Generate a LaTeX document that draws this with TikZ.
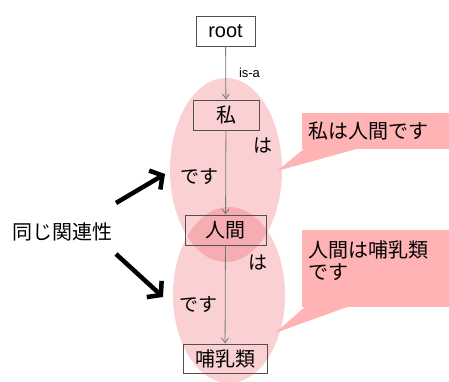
\documentclass[tikz,border=0pt]{standalone}
\usepackage{fontspec}
\setmainfont{Liberation Sans}
\newfontfamily\jp{Noto Sans CJK JP}
\usetikzlibrary{arrows.meta}
\definecolor{ellpink}{RGB}{235,80,90}
\definecolor{callpink}{RGB}{255,179,181}
\definecolor{boxgray}{RGB}{80,80,80}
\definecolor{lingray}{RGB}{120,120,120}
\tikzset{
  ell/.style={fill=ellpink, fill opacity=0.27, draw=none},
  wbox/.style={draw=boxgray, line width=0.9pt, inner sep=0pt, font=\jp\fontsize{20}{24}\selectfont},
  lbl/.style={inner sep=0pt, font=\jp\fontsize{19}{22}\selectfont},
  thinarrow/.style={draw=lingray, line width=0.8pt, -{Straight Barb[length=5pt,width=7pt,line width=0.8pt]}},
  bigarrow/.style={draw=black, line width=4.5pt, -{Straight Barb[length=9pt,width=22pt,line width=4.5pt]}},
  callout/.style={fill=callpink, draw=none},
  calltext/.style={inner sep=0pt, font=\jp\fontsize{20}{22}\selectfont, align=left}
}
\begin{document}
\begin{tikzpicture}[x=1pt,y=-1pt]
\useasboundingbox (0,0) rectangle (449,382);
% ellipses
\fill[ell] (226,170) ellipse [x radius=56, y radius=92];
\fill[ell] (229,295) ellipse [x radius=56, y radius=88];
% callouts
\fill[callout] (302,113) rectangle (449,149);
\fill[callout] (277,171) -- (305,148) -- (360,148) -- cycle;
\fill[callout] (302,230) rectangle (449,307);
\fill[callout] (275,333) -- (306,306) -- (350,306) -- cycle;
\node[calltext, anchor=west] (c1) at (308,131) {私は人間です};
\node[calltext, anchor=north west] (c2) at (308,240) {人間は哺乳類\\です};
% nodes
\node[wbox, fill=white, minimum width=59pt, minimum height=30pt, font=\fontsize{20}{24}\selectfont] (root) at (225.5,31) {root};
\node[wbox, minimum width=66pt, minimum height=30pt] (watashi) at (226,115) {私};
\node[wbox, minimum width=81pt, minimum height=30pt] (ningen) at (225.5,230) {人間};
\node[wbox, minimum width=84pt, minimum height=29pt] (honyu) at (225,358.5) {哺乳類};
% connectors
\draw[thinarrow] (root) -- (watashi);
\draw[thinarrow] (watashi) -- (ningen);
\draw[thinarrow] (ningen) -- (honyu);
\node[inner sep=0pt, font=\fontsize{13}{15}\selectfont] (isa) at (249.5,73) {is-a};
\node[lbl] (ha1) at (263,146) {は};
\node[lbl] (desu1) at (199,176) {です};
\node[lbl] (ha2) at (258,263) {は};
\node[lbl] (desu2) at (198,304) {です};
% left label and big arrows
\node[inner sep=0pt, font=\jp\fontsize{20}{24}\selectfont, anchor=west] (same) at (12,232) {同じ関連性};
\coordinate (a1s) at (116,203);
\coordinate (a1e) at (165,174);
\coordinate (a2s) at (116,254);
\coordinate (a2e) at (163,297);
\draw[bigarrow] (a1s) -- (a1e);
\draw[bigarrow] (a2s) -- (a2e);
\end{tikzpicture}
\end{document}
